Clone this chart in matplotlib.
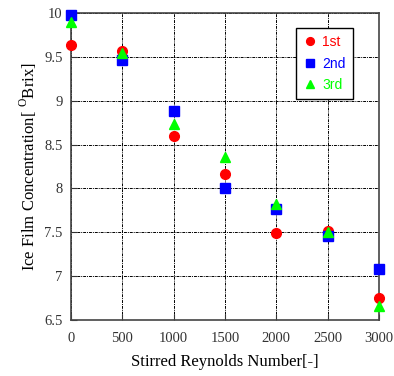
import matplotlib
matplotlib.use("Agg")
import matplotlib.pyplot as plt

plt.rcParams["mathtext.fontset"] = "custom"
plt.rcParams["mathtext.rm"] = "Liberation Serif"

reynolds = [0, 500, 1000, 1500, 2000, 2500, 3000]
run1 = [9.63, 9.57, 8.60, 8.17, 7.49, 7.52, 6.75]
run2 = [9.98, 9.46, 8.88, 8.00, 7.76, 7.46, 7.08]
run3 = [9.90, 9.54, 8.74, 8.36, 7.82, 7.50, 6.66]
labels = ["1st", "2nd", "3rd"]

fig = plt.figure(figsize=(3.94, 3.76), dpi=100)
ax = fig.add_axes([71 / 394, 1 - 320 / 376, 308 / 394, 307 / 376])

ax.plot(reynolds, run1, "o", color="#ff0000", ms=7, label=labels[0], zorder=3, clip_on=False)
ax.plot(reynolds, run2, "s", color="#0000ff", ms=7, label=labels[1], zorder=3, clip_on=False)
ax.plot(reynolds, run3, "^", color="#00ff00", ms=7, label=labels[2], zorder=3, clip_on=False)

ax.set_xlim(0, 3000)
ax.set_ylim(6.5, 10)
ax.set_xticks(reynolds)
ax.set_yticks([6.5, 7, 7.5, 8, 8.5, 9, 9.5, 10])
ax.set_yticklabels(["6.5", "7", "7.5", "8", "8.5", "9", "9.5", "10"])
ax.grid(True, color="black", linestyle=(0, (3, 1, 1, 1)), linewidth=0.7)
ax.tick_params(axis="x", direction="in", length=4, pad=9, labelsize=10.5, colors="#333333")
ax.tick_params(axis="y", direction="in", length=4, pad=6, labelsize=10.5, colors="#333333")
for lab in ax.get_xticklabels() + ax.get_yticklabels():
    lab.set_family("Liberation Serif")
for s in ax.spines.values():
    s.set_linewidth(1.2)
    s.set_color("#444444")

ax.set_xlabel("Stirred Reynolds Number[-]", family="Liberation Serif", fontsize=12, labelpad=6)
ax.set_ylabel(r"Ice Film Concentration[ $^{\mathrm{O}}$Brix]", family="Liberation Serif", fontsize=12, labelpad=4)

leg = ax.legend(loc="upper left", bbox_to_anchor=(0.73, 0.951), frameon=True, fancybox=False,
                edgecolor="black", handletextpad=0.4, handlelength=1.0, borderpad=0.5,
                labelspacing=0.55, markerscale=0.8, borderaxespad=0,
                prop={"family": "Liberation Sans", "size": 10})
leg.get_frame().set_linewidth(1.0)
leg.get_frame().set_alpha(1)
for t, c in zip(leg.get_texts(), ["#ff0000", "#0000ff", "#00ff00"]):
    t.set_color(c)

fig.savefig("out.png", dpi=100)
